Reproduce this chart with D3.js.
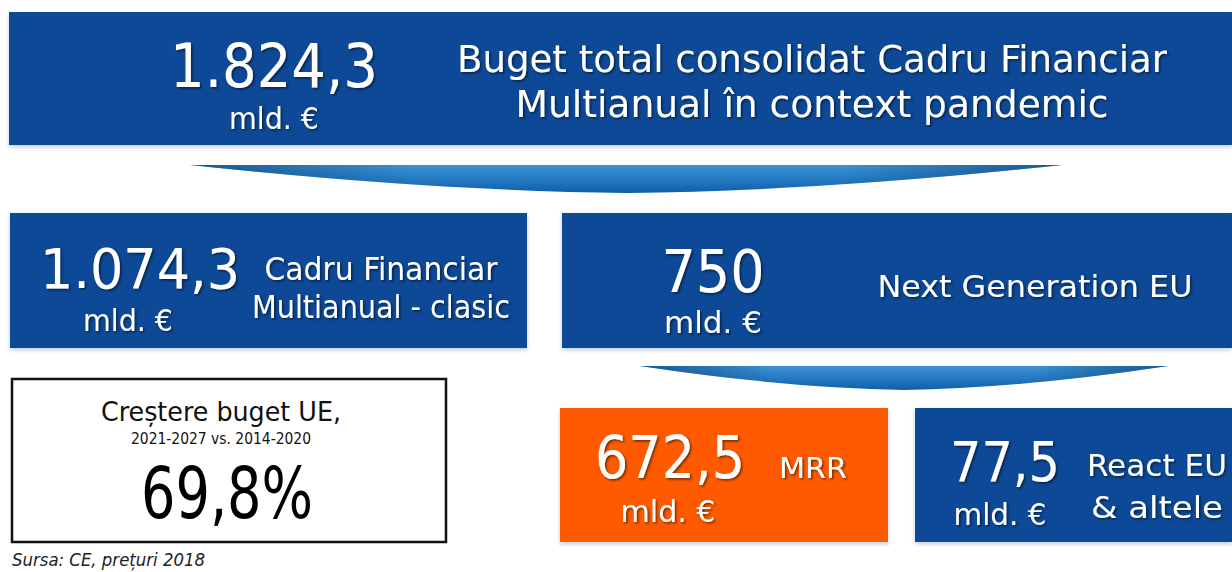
<!DOCTYPE html>
<html>
<head>
<meta charset="utf-8">
<script src="https://cdn.jsdelivr.net/npm/d3@7"></script>
<style>
  html, body { margin: 0; padding: 0; background: #ffffff; }
  svg { display: block; }
  text { font-family: "DejaVu Sans Condensed", "DejaVu Sans", sans-serif; }
</style>
</head>
<body>
<svg id="chart" width="1232" height="572"></svg>
<script>
// Buget UE 2021-2027 -- infographic

var values = [1824.3, 1074.3, 750, 672.5, 77.5];
var unitLabel = "mld. €";
var captions = [
  ["Buget total consolidat Cadru Financiar", "Multianual în context pandemic"],
  ["Cadru Financiar", "Multianual - clasic"],
  ["Next Generation EU"],
  ["MRR"],
  ["React EU", "& altele"]
];
var growthTitle = ["Creștere buget UE,", "2021-2027 vs. 2014-2020"];
var growthValue = 69.8;
var sourceNote = "Sursa: CE, prețuri 2018";

///////////////////////////////////////////////////////////////////////////////
// layout (pixels of the 1232x572 picture)

var BLUE = "#0b4a97", ORANGE = "#ff5a00";

var boxes = [
  { x: 9,   y: 12,  w: 1223, h: 133, fill: BLUE,
    num: { cx: 274, by: 87, fs: 60, tw: 208 }, unit: { cx: 274, by: 129, fs: 30, tw: 90 },
    cap: { cx: 812, by: [72, 117], fs: 38, tw: [710, 593] } },
  { x: 10,  y: 213, w: 517,  h: 135, fill: BLUE,
    num: { cx: 140, by: 288, fs: 56, tw: 200 }, unit: { cx: 128, by: 331, fs: 30, tw: 90 },
    cap: { cx: 381, by: [280, 318], fs: 32, tw: [233, 258] } },
  { x: 562, y: 213, w: 670,  h: 135, fill: BLUE,
    num: { cx: 713, by: 292, fs: 58, tw: 103 }, unit: { cx: 713, by: 333, fs: 30, tw: 98 },
    cap: { cx: 1035, by: [297], fs: 30, tw: [315] } },
  { x: 560, y: 408, w: 328,  h: 134, fill: ORANGE,
    num: { cx: 670, by: 478, fs: 58, tw: 150 }, unit: { cx: 668, by: 522, fs: 30, tw: 95 },
    cap: { cx: 813, by: [478], fs: 28, tw: [68] } },
  { x: 915, y: 408, w: 317,  h: 134, fill: BLUE,
    num: { cx: 1005, by: 481, fs: 56, tw: 110 }, unit: { cx: 1000, by: 525, fs: 30, tw: 93 },
    cap: { cx: 1157, by: [476, 518], fs: 30, tw: [140, 132] } }
];

// down arrows: left tip, right tip, bottom point
var arrows = [
  { x0: 190, x1: 1062, y: 165, tipX: 627, tipY: 193 },
  { x0: 640, x1: 1168, y: 366, tipX: 904, tipY: 390 }
];

var growthBox = { x: 12, y: 379, w: 434, h: 163 };

var ro = d3.formatLocale({ decimal: ",", thousands: ".", grouping: [3], currency: ["", "€"] });
var fmtNum = function (v) {
  return Number.isInteger(v) ? ro.format(",d")(v) : ro.format(",.1f")(v);
};

var svg = d3.select("#chart");
var defs = svg.append("defs");

var shadow = defs.append("filter").attr("id", "shadow")
  .attr("x", "-10%").attr("y", "-10%").attr("width", "120%").attr("height", "130%");
shadow.append("feDropShadow").attr("dx", 1.5).attr("dy", 1.5)
  .attr("stdDeviation", 1.2).attr("flood-color", "#000").attr("flood-opacity", 0.55);

var boxShadow = defs.append("filter").attr("id", "boxShadow")
  .attr("x", "-2%").attr("y", "-5%").attr("width", "104%").attr("height", "115%");
boxShadow.append("feDropShadow").attr("dx", 0).attr("dy", 2)
  .attr("stdDeviation", 2).attr("flood-color", "#6a8fb5").attr("flood-opacity", 0.45);

var grad = defs.append("linearGradient").attr("id", "arrowGrad")
  .attr("x1", 0).attr("x2", 0).attr("y1", 0).attr("y2", 1);
grad.append("stop").attr("offset", "0%").attr("stop-color", "#3b93d6");
grad.append("stop").attr("offset", "100%").attr("stop-color", "#0f5fab");

var gradH = defs.append("linearGradient").attr("id", "arrowEdge")
  .attr("x1", 0).attr("x2", 1).attr("y1", 0).attr("y2", 0);
gradH.append("stop").attr("offset", "0%").attr("stop-color", "#0a3f73").attr("stop-opacity", 0.7);
gradH.append("stop").attr("offset", "25%").attr("stop-color", "#0a3f73").attr("stop-opacity", 0);
gradH.append("stop").attr("offset", "75%").attr("stop-color", "#0a3f73").attr("stop-opacity", 0);
gradH.append("stop").attr("offset", "100%").attr("stop-color", "#0a3f73").attr("stop-opacity", 0.7);

// text helper: fixed width via textLength so any installed font fits the box
var putText = function (g, str, cx, by, fs, tw, color) {
  var t = g.append("text")
    .attr("x", cx).attr("y", by)
    .attr("text-anchor", "middle")
    .attr("font-size", fs)
    .attr("fill", color || "#fff")
    .text(str);
  if (tw) t.attr("textLength", tw).attr("lengthAdjust", "spacingAndGlyphs");
  return t;
};

///////////////////////////////////////////////////////////////////////////////
// arrows

var arrowPath = function (a) {
  var p = d3.path();
  p.moveTo(a.x0, a.y);
  p.lineTo(a.x1, a.y);
  p.quadraticCurveTo(a.tipX + (a.x1 - a.tipX) * 0.45, a.tipY - 2, a.tipX, a.tipY);
  p.quadraticCurveTo(a.x0 + (a.tipX - a.x0) * 0.55, a.tipY - 2, a.x0, a.y);
  p.closePath();
  return p.toString();
};

var arrowG = svg.append("g").attr("class", "arrows");
arrowG.selectAll("path.fill").data(arrows).join("path")
  .attr("class", "fill").attr("d", arrowPath).attr("fill", "url(#arrowGrad)");
arrowG.selectAll("path.edge").data(arrows).join("path")
  .attr("class", "edge").attr("d", arrowPath).attr("fill", "url(#arrowEdge)");

///////////////////////////////////////////////////////////////////////////////
// value boxes

var boxG = svg.selectAll("g.box").data(boxes).join("g").attr("class", "box");

boxG.append("rect")
  .attr("x", function (d) { return d.x; })
  .attr("y", function (d) { return d.y; })
  .attr("width", function (d) { return d.w; })
  .attr("height", function (d) { return d.h; })
  .attr("fill", function (d) { return d.fill; })
  .attr("filter", "url(#boxShadow)");

boxG.each(function (d, i) {
  var g = d3.select(this).append("g").attr("filter", "url(#shadow)");
  putText(g, fmtNum(values[i]), d.num.cx, d.num.by, d.num.fs, d.num.tw);
  putText(g, unitLabel, d.unit.cx, d.unit.by, d.unit.fs, d.unit.tw);
  captions[i].forEach(function (line, j) {
    putText(g, line, d.cap.cx, d.cap.by[j], d.cap.fs, d.cap.tw[j]);
  });
});

///////////////////////////////////////////////////////////////////////////////
// growth box + source

var gb = svg.append("g").attr("class", "growth");
gb.append("rect")
  .attr("x", growthBox.x).attr("y", growthBox.y)
  .attr("width", growthBox.w).attr("height", growthBox.h)
  .attr("fill", "#fff").attr("stroke", "#111").attr("stroke-width", 2.5);

var gcx = growthBox.x + growthBox.w / 2;
putText(gb, growthTitle[0], gcx - 8, 421, 27, 240, "#111");
putText(gb, growthTitle[1], gcx - 8, 444, 16, 180, "#111");
putText(gb, ro.format(".1f")(growthValue) + "%", gcx - 2, 518, 72, 172, "#000");

svg.append("text")
  .attr("x", 12).attr("y", 566)
  .attr("font-size", 17).attr("font-style", "italic")
  .attr("fill", "#222")
  .attr("textLength", 193).attr("lengthAdjust", "spacingAndGlyphs")
  .text(sourceNote);
</script>
</body>
</html>
